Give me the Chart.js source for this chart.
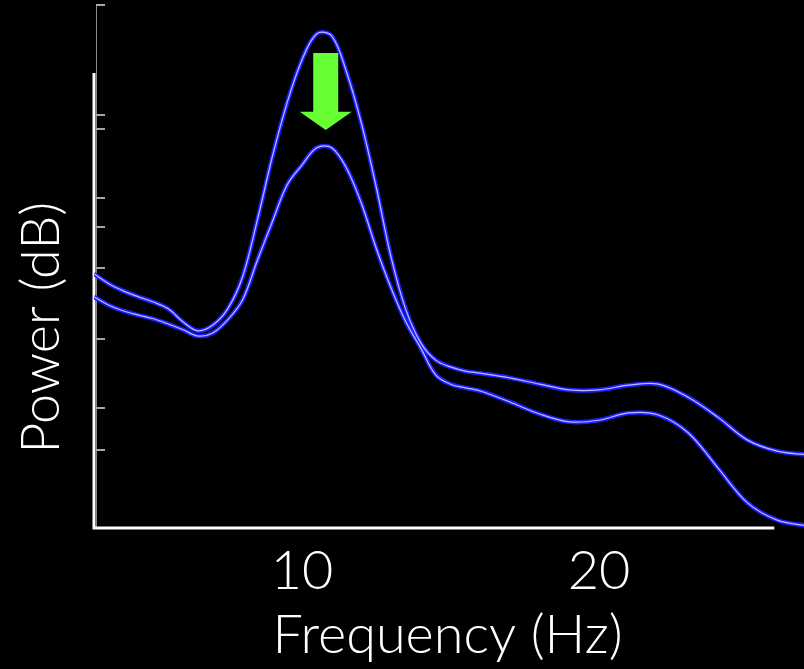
<!DOCTYPE html>
<html>
<head>
<meta charset="utf-8">
<title>Power spectrum</title>
<script src="https://cdn.jsdelivr.net/npm/chart.js@4/dist/chart.umd.min.js"></script>
<style>
    html, body { margin: 0; padding: 0; background: #000; }
    #wrap { width: 804px; height: 669px; }
</style>
</head>
<body>
<div id="wrap"><canvas id="spectrum-chart" width="804" height="669"></canvas></div>
<script>
// Frequency samples (Hz)
const freqs = [3, 3.5, 4, 4.5, 5, 5.5, 6, 6.5, 7, 7.5, 8, 8.5, 9, 9.5, 10, 10.5, 11, 11.5, 12, 12.5, 13, 13.5, 14, 14.5, 15, 15.5, 16,
    17, 18, 19, 20, 21, 22, 23, 24, 25, 26, 27];

// Power (arbitrary dB units) - higher alpha peak
const powerHigh = [48.6, 46.7, 45.3, 44.2, 43.2, 41.9, 39.4, 37.7, 38.8, 41.9, 48.0, 58.9, 70.9, 81.3, 89.5, 94.5, 94.1, 87.2, 77.4, 65.2, 51.8, 41.7, 35.4, 32.1, 30.8, 30.0, 29.6,
    28.7, 27.5, 26.4, 26.4, 27.3, 27.5, 25.0, 21.2, 16.8, 14.7, 14.0];

// Power - reduced alpha peak
const powerLow = [44.2, 42.6, 41.5, 40.7, 40.0, 39.0, 37.9, 36.7, 37.3, 39.8, 43.6, 51.2, 58.5, 65.6, 69.4, 72.7, 72.7, 68.8, 62.1, 53.5, 45.9, 39.4, 34.4, 29.3, 27.5, 26.8, 26.2,
    24.1, 21.8, 20.3, 20.6, 22.0, 21.6, 18.2, 11.5, 4.8, 1.5, 0.4];

// Axis ticks
const xTickValues = [10, 20];
const yTickValues = [100, 79.0, 76.3, 63.1, 57.6, 49.7, 36.1, 22.9, 14.9];

// Arrow (frequency, top value, head base value, tip value)
const arrowFreq = 10.8;
const arrowTop = 90.8;
const arrowBase = 79.6;
const arrowTip = 76.1;

const FONT = 'Lato, "Open Sans", sans-serif';

function toPoints(values) {
    return freqs.map((f, i) => ({ x: f, y: values[i] }));
}

// order: lower numbers are drawn on top
function lineSet(values, color, width, order) {
    return {
        data: toPoints(values),
        borderColor: color,
        borderWidth: width,
        pointRadius: 0,
        fill: false,
        tension: 0.35,
        order: order
    };
}

// Draws the axes, ticks, labels and the green arrow
const decorations = {
    id: 'decorations',
    beforeDatasetsDraw(chart) {
        const ctx = chart.ctx;
        const x = chart.scales.x;
        const y = chart.scales.y;
        const left = x.getPixelForValue(3);
        const bottom = y.getPixelForValue(0);

        ctx.save();
        // thin grey spine
        ctx.strokeStyle = '#8a8a8a';
        ctx.lineWidth = 1;
        ctx.beginPath();
        ctx.moveTo(left + 2.5, y.getPixelForValue(100));
        ctx.lineTo(left + 2.5, bottom);
        ctx.stroke();

        // white spine
        ctx.strokeStyle = '#ffffff';
        ctx.lineWidth = 3;
        ctx.beginPath();
        ctx.moveTo(left, y.getPixelForValue(87));
        ctx.lineTo(left, bottom);
        ctx.lineTo(x.getPixelForValue(25.9), bottom);
        ctx.stroke();

        // y ticks
        ctx.strokeStyle = '#a8a8a8';
        ctx.lineWidth = 2;
        yTickValues.forEach(v => {
            const py = Math.round(y.getPixelForValue(v));
            ctx.beginPath();
            ctx.moveTo(left + 2, py);
            ctx.lineTo(left + 11, py);
            ctx.stroke();
        });

        // x tick labels
        ctx.fillStyle = '#ffffff';
        ctx.font = '300 54px ' + FONT;
        ctx.textAlign = 'center';
        ctx.textBaseline = 'middle';
        xTickValues.forEach(v => {
            ctx.fillText(String(v), x.getPixelForValue(v), bottom + 44);
        });

        // axis titles
        ctx.fillText('Frequency (Hz)', x.getPixelForValue(14.9), bottom + 108);
        ctx.translate(42, y.getPixelForValue(38.3));
        ctx.rotate(-Math.PI / 2);
        ctx.fillText('Power (dB)', 0, 0);
        ctx.restore();
    },
    afterDatasetsDraw(chart) {
        const ctx = chart.ctx;
        const x = chart.scales.x;
        const y = chart.scales.y;
        const cx = x.getPixelForValue(arrowFreq);
        const top = y.getPixelForValue(arrowTop);
        const base = y.getPixelForValue(arrowBase);
        const tip = y.getPixelForValue(arrowTip);

        ctx.save();
        ctx.fillStyle = '#66ff33';
        ctx.beginPath();
        ctx.moveTo(cx - 12.5, top);
        ctx.lineTo(cx + 12.5, top);
        ctx.lineTo(cx + 12.5, base);
        ctx.lineTo(cx + 26, base);
        ctx.lineTo(cx, tip);
        ctx.lineTo(cx - 26, base);
        ctx.lineTo(cx - 12.5, base);
        ctx.closePath();
        ctx.fill();
        ctx.restore();
    }
};

function renderChart() {
    const ctx = document.getElementById('spectrum-chart').getContext('2d');

    new Chart(ctx, {
        type: 'line',
        data: {
            datasets: [
                lineSet(powerHigh, '#1e1eff', 4.5, 2),
                lineSet(powerLow, '#1e1eff', 4.5, 2),
                lineSet(powerHigh, 'rgba(230, 230, 255, 0.8)', 1.2, 1),
                lineSet(powerLow, 'rgba(230, 230, 255, 0.8)', 1.2, 1)
            ]
        },
        options: {
            responsive: false,
            animation: false,
            devicePixelRatio: 1,
            layout: {
                padding: { left: 94, right: 0, top: 5, bottom: 141 }
            },
            plugins: {
                legend: { display: false },
                tooltip: { enabled: false }
            },
            scales: {
                x: { type: 'linear', min: 3, max: 26.9, display: false },
                y: { type: 'linear', min: 0, max: 100, display: false }
            }
        },
        plugins: [decorations]
    });
}

document.addEventListener('DOMContentLoaded', renderChart);
</script>
</body>
</html>
